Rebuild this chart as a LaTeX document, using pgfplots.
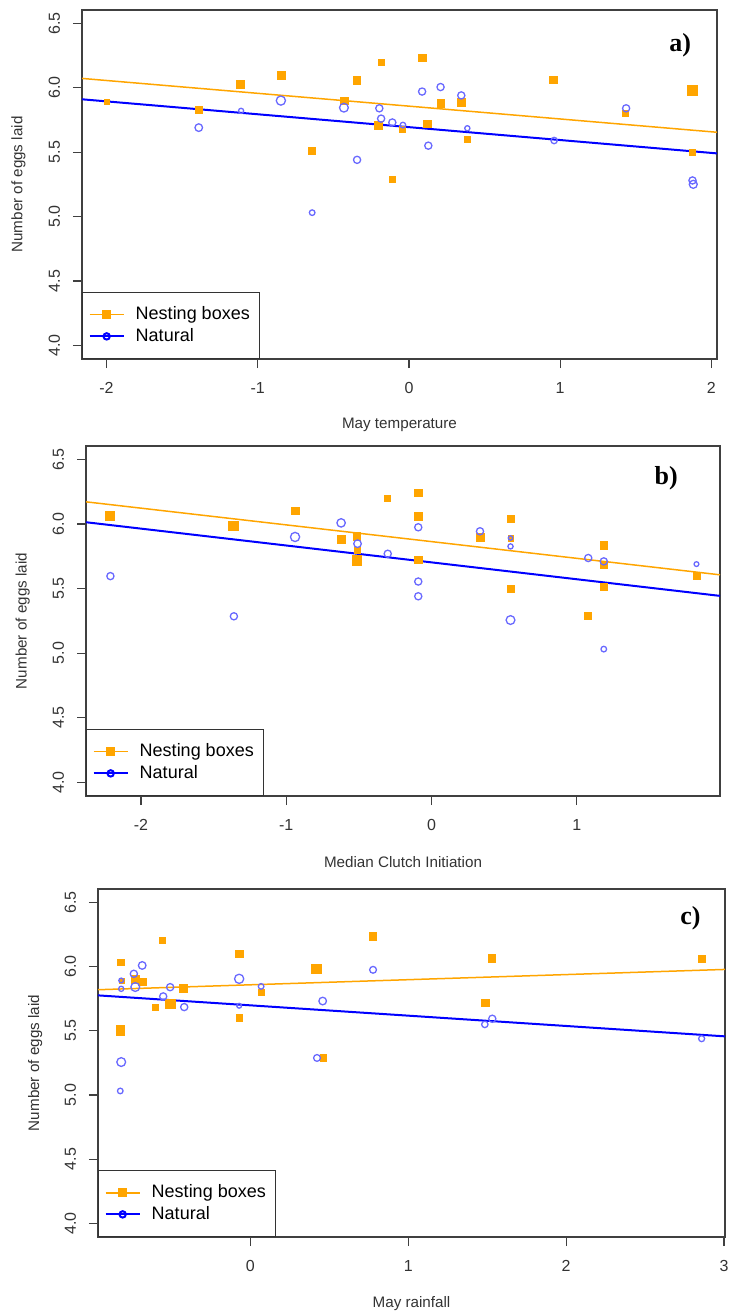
\documentclass[border=0pt]{standalone}
\usepackage{fontspec}
\setmainfont{Liberation Sans}
\newfontfamily\panelfont{Liberation Serif}
\usepackage{pgfplots}
\pgfplotsset{compat=1.18}
\usepackage{pgfplotstable}

\definecolor{rorange}{RGB}{255,165,0}
\definecolor{rblue}{RGB}{0,0,255}
\definecolor{cblue}{RGB}{105,105,255}

% ---------- panel a: May temperature ----------
\pgfplotstableread{
x y s
-2.000 5.890 1.3
-1.390 5.830 1.9
-1.115 6.030 1.9
-0.847 6.100 1.9
-0.430 5.900 1.9
-0.346 6.060 1.9
-0.642 5.510 1.8
-0.184 6.200 1.5
-0.206 5.710 2.0
-0.112 5.290 1.5
-0.044 5.680 1.5
0.087 6.235 1.9
0.120 5.720 1.9
0.209 5.880 1.9
0.346 5.890 1.9
0.386 5.600 1.6
0.953 6.065 1.8
1.430 5.800 1.5
1.872 5.980 2.4
1.872 5.500 1.5
}\Asq
\pgfplotstableread{
x y s
-1.390 5.690 1.9
-1.110 5.820 1.3
-0.847 5.900 2.3
-0.640 5.030 1.4
-0.430 5.845 2.2
-0.343 5.440 1.8
-0.196 5.840 1.8
-0.184 5.760 1.8
-0.110 5.730 1.8
-0.040 5.710 1.4
0.087 5.970 1.8
0.128 5.550 1.8
0.209 6.005 1.8
0.346 5.940 1.8
0.386 5.685 1.3
0.960 5.590 1.6
1.436 5.840 1.8
1.875 5.280 1.8
1.880 5.250 2.0
}\Aci
% ---------- panel b: Median Clutch Initiation ----------
\pgfplotstableread{
x y s
-2.216 6.065 2.1
-1.364 5.987 2.4
-0.939 6.104 1.9
-0.622 5.883 1.9
-0.515 5.904 1.9
-0.515 5.800 1.5
-0.515 5.718 2.4
-0.305 6.202 1.5
-0.091 6.241 1.9
-0.091 6.060 1.9
-0.091 5.723 1.9
0.334 5.896 1.9
0.544 6.039 1.8
0.544 5.891 1.3
0.544 5.497 1.7
1.076 5.293 1.7
1.186 5.834 1.9
1.186 5.684 1.9
1.186 5.516 1.9
1.824 5.601 1.7
}\Bsq
\pgfplotstableread{
x y s
-2.210 5.596 1.8
-1.360 5.285 1.8
-0.939 5.899 2.3
-0.622 6.008 2.1
-0.509 5.847 1.9
-0.301 5.769 1.8
-0.091 5.974 1.8
-0.091 5.554 1.8
-0.091 5.440 1.8
0.334 5.943 1.8
0.544 5.891 1.1
0.544 5.826 1.3
0.544 5.256 2.2
1.079 5.736 1.8
1.186 5.710 1.8
1.186 5.031 1.4
1.824 5.689 1.2
}\Bci
% ---------- panel c: May rainfall ----------
\pgfplotstableread{
x y s
-0.824 6.034 1.7
-0.818 5.891 1.3
-0.824 5.516 1.9
-0.824 5.497 1.9
-0.729 5.904 1.9
-0.685 5.883 1.9
-0.558 6.202 1.5
-0.602 5.684 1.6
-0.508 5.710 2.3
-0.425 5.832 1.9
-0.071 6.098 1.8
-0.071 5.601 1.7
0.068 5.800 1.6
0.416 5.982 2.3
0.461 5.290 1.6
0.774 6.236 1.9
1.485 5.718 1.9
1.526 6.065 1.8
2.858 6.060 1.8
}\Csq
\pgfplotstableread{
x y s
-0.818 5.891 1.2
-0.818 5.826 1.3
-0.818 5.256 2.2
-0.824 5.031 1.4
-0.738 5.943 1.8
-0.729 5.840 2.2
-0.685 6.008 1.9
-0.552 5.767 1.8
-0.508 5.839 1.8
-0.419 5.684 1.8
-0.071 5.904 2.3
-0.071 5.694 1.2
0.068 5.845 1.4
0.422 5.288 1.7
0.458 5.731 1.9
0.777 5.974 1.7
1.485 5.549 1.6
1.532 5.593 1.8
2.858 5.438 1.5
}\Cci

\pgfplotsset{
  panel/.style={
    scale only axis,
    ymin=3.894, ymax=6.603,
    ytick={4,4.5,5,5.5,6,6.5},
    yticklabels={4.0,4.5,5.0,5.5,6.0,6.5},
    xtick pos=left, ytick pos=left,
    tick align=outside,
    major tick length=4.5pt,
    xticklabel shift=3.5pt,
    yticklabel shift=3pt,
    axis line style={black!75, line width=0.7pt},
    every tick/.style={black!75, line width=0.6pt},
    yticklabel style={rotate=90, anchor=south, font=\fontsize{8}{9.6}\selectfont, text=black!80},
    xticklabel style={font=\fontsize{8}{9.6}\selectfont, text=black!80},
    label style={font=\fontsize{7.6}{9}\selectfont, text=black!80},
    ylabel={Number of eggs laid},
    y label style={at={(axis description cs:-0.1,0.5)}, anchor=center},
    x label style={at={(axis description cs:0.5,-0.19)}, anchor=center},
    legend style={at={(0,0)}, anchor=south west, draw=black!80, line width=0.6pt,
      font=\fontsize{9}{10.8}\selectfont, inner xsep=3pt, inner ysep=5pt,
      row sep=-1.2pt, column sep=3.5pt, legend cell align=left},
  },
  sq/.style={forget plot, only marks, scatter, mark=square*, scatter src=explicit,
    line width=0.1pt,
    scatter/use mapped color={draw=rorange, fill=rorange},
    visualization depends on={\thisrow{s}\as\ms},
    scatter/@pre marker code/.append style={/tikz/mark size=\ms}},
  ci/.style={forget plot, only marks, scatter, mark=o, scatter src=explicit,
    line width=0.65pt,
    scatter/use mapped color={draw=cblue},
    visualization depends on={\thisrow{s}\as\ms},
    scatter/@pre marker code/.append style={/tikz/mark size=\ms}},
  oline/.style={forget plot, rorange, line width=0.75pt, no marks},
  bline/.style={forget plot, rblue, line width=1pt, no marks},
}

\newcommand{\legendentries}{%
  \addlegendimage{rorange, line width=0.75pt, mark=square*, mark size=1.9pt}
  \addlegendentry{Nesting boxes}
  \addlegendimage{rblue, line width=1pt, mark=o, mark size=1.6pt}
  \addlegendentry{Natural}
}

\begin{document}
\begin{tikzpicture}
\useasboundingbox (0pt,0pt) rectangle (365pt,-656.5pt);

% ---------------- a) ----------------
\begin{axis}[panel, at={(41pt,-5pt)}, anchor=north west,
  width=317.5pt, height=174.5pt,
  xmin=-2.162, xmax=2.037,
  xtick={-2,-1,0,1,2}, xticklabels={-2,-1,0,1,2},
  xlabel={May temperature}]
\addplot[sq] table[x=x,y=y,meta=s] \Asq;
\addplot[ci] table[x=x,y=y,meta=s] \Aci;
\addplot[oline] coordinates {(-2.162,6.072) (2.037,5.654)};
\addplot[bline] coordinates {(-2.162,5.910) (2.037,5.490)};
\legendentries
\node[font=\panelfont\bfseries\fontsize{13}{15}\selectfont] at (rel axis cs:0.942,0.9) {a)};
\end{axis}

% ---------------- b) ----------------
\begin{axis}[panel, at={(43pt,-223pt)}, anchor=north west,
  width=317pt, height=175pt,
  xmin=-2.378, xmax=1.986,
  xtick={-2,-1,0,1}, xticklabels={-2,-1,0,1},
  xlabel={Median Clutch Initiation}]
\addplot[sq] table[x=x,y=y,meta=s] \Bsq;
\addplot[ci] table[x=x,y=y,meta=s] \Bci;
\addplot[oline] coordinates {(-2.378,6.171) (1.986,5.606)};
\addplot[bline] coordinates {(-2.378,6.013) (1.986,5.443)};
\legendentries
\node[font=\panelfont\bfseries\fontsize{13}{15}\selectfont] at (rel axis cs:0.915,0.909) {b)};
\end{axis}

% ---------------- c) ----------------
\begin{axis}[panel, at={(49pt,-444.5pt)}, anchor=north west,
  width=313.5pt, height=174pt,
  xmin=-0.965, xmax=3.006,
  xtick={0,1,2,3}, xticklabels={0,1,2,3},
  xlabel={May rainfall}]
\addplot[sq] table[x=x,y=y,meta=s] \Csq;
\addplot[ci] table[x=x,y=y,meta=s] \Cci;
\addplot[oline] coordinates {(-0.965,5.819) (3.006,5.977)};
\addplot[bline] coordinates {(-0.965,5.775) (3.006,5.456)};
\legendentries
\node[font=\panelfont\bfseries\fontsize{13}{15}\selectfont] at (rel axis cs:0.945,0.917) {c)};
\end{axis}
\end{tikzpicture}
\end{document}
